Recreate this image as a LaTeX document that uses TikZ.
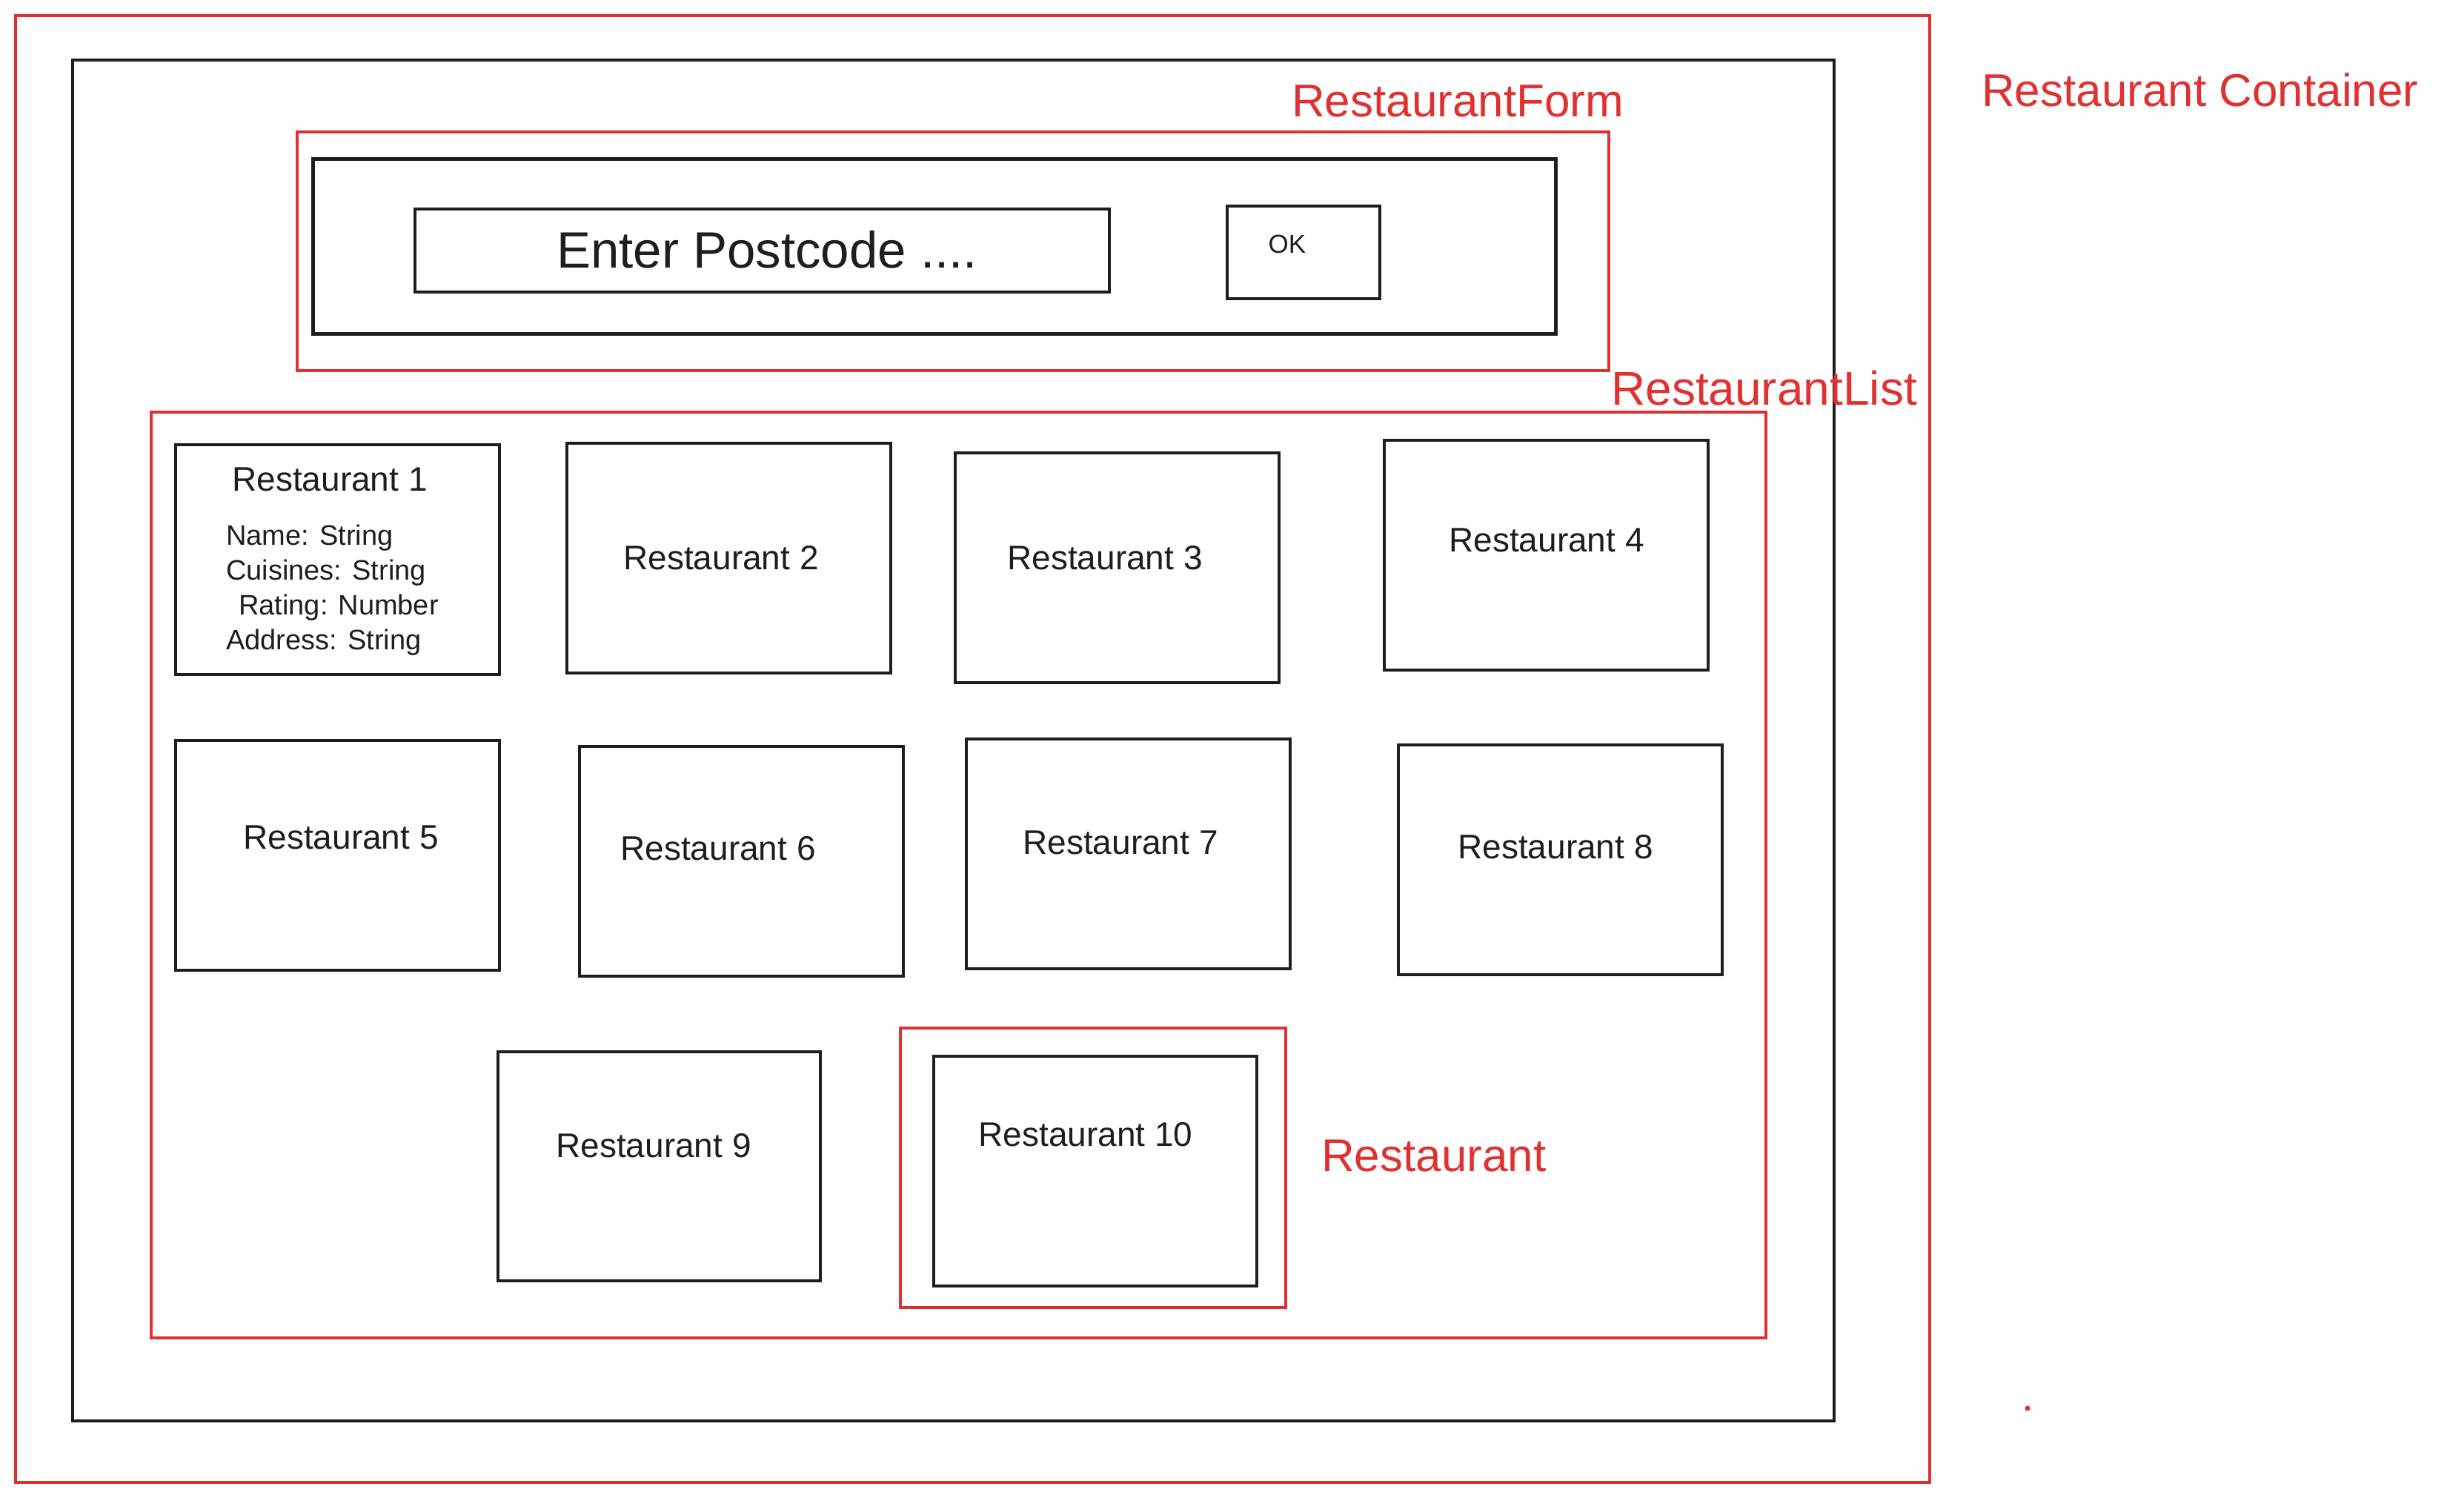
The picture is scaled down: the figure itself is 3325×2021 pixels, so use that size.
\documentclass[tikz,border=0pt]{standalone}
\usepackage{fontspec}
\setmainfont{Liberation Sans}
\definecolor{exred}{HTML}{E03131}
\definecolor{exblack}{HTML}{1E1E1E}
\begin{document}
\begin{tikzpicture}[x=1pt,y=-1pt,
  blackbox/.style={draw=exblack, line width=4pt, rectangle, inner sep=0pt},
  redbox/.style={draw=exred, line width=3.5pt, rectangle, inner sep=0pt},
  restbox/.style={blackbox, minimum width=437pt, minimum height=310pt},
  rname/.style={inner sep=0pt, text=exblack, font=\fontsize{46}{52}\selectfont},
  attr/.style={inner sep=0pt, text=exblack, align=left, font=\fontsize{38}{47}\selectfont},
  redlabel/.style={inner sep=0pt, anchor=west, text=exred, font=\fontsize{62}{70}\selectfont}]
\useasboundingbox (0,0) rectangle (3325,2021);
% containers
\node[redbox, minimum width=2583pt, minimum height=1979pt] (outer) at (1312.5,1010.5) {};
\node[blackbox, minimum width=2377pt, minimum height=1836pt] (container) at (1286.5,999) {};
% form
\node[redbox, minimum width=1770pt, minimum height=322pt] (formred) at (1286,339) {};
\node[blackbox, line width=5pt, minimum width=1677pt, minimum height=236pt] (form) at (1260.5,332) {};
\node[blackbox, line width=3.5pt, minimum width=937pt, minimum height=112pt] (input) at (1028.5,338) {};
\node[inner sep=0pt, text=exblack, font=\fontsize{69}{76}\selectfont] (inputtext) at (1035,337) {Enter Postcode ....};
\node[blackbox, line width=3.5pt, minimum width=206pt, minimum height=125pt] (ok) at (1759,340.5) {};
\node[inner sep=0pt, text=exblack, font=\fontsize{35}{40}\selectfont] (oktext) at (1737,329) {OK};
% list
\node[redbox, minimum width=2179pt, minimum height=1249pt] (list) at (1293.5,1180.5) {};
% restaurants
\node[restbox] (r1) at (455.5,755) {};
\node[restbox] (r2) at (983.5,753) {};
\node[restbox] (r3) at (1507.5,765.5) {};
\node[restbox] (r4) at (2086.5,748.5) {};
\node[restbox] (r5) at (455.5,1153.5) {};
\node[restbox] (r6) at (1000.5,1162) {};
\node[restbox] (r7) at (1522.5,1151.5) {};
\node[restbox] (r8) at (2105.5,1160) {};
\node[restbox, minimum width=435pt, minimum height=309pt] (r9) at (889.5,1573.5) {};
\node[redbox, minimum width=520pt, minimum height=377pt] (r10red) at (1475,1575.5) {};
\node[restbox, minimum width=436pt] (r10) at (1478,1580) {};
% restaurant texts
\node[rname] (t1) at (445,647) {Restaurant 1};
\node[attr, anchor=north west] (t1attr) at (305,708) {Name: String\\Cuisines: String\\\hspace*{17pt}Rating: Number\\Address: String};
\node[rname] (t2) at (973,753) {Restaurant 2};
\node[rname] (t3) at (1491,753) {Restaurant 3};
\node[rname] (t4) at (2087,729) {Restaurant 4};
\node[rname] (t5) at (460,1130) {Restaurant 5};
\node[rname] (t6) at (969,1145) {Restaurant 6};
\node[rname] (t7) at (1512,1137) {Restaurant 7};
\node[rname] (t8) at (2099,1143) {Restaurant 8};
\node[rname] (t9) at (882,1546) {Restaurant 9};
\node[rname] (t10) at (1465,1531) {Restaurant 10};
% red labels
\node[redlabel] (lform) at (1743,136) {RestaurantForm};
\node[redlabel, font=\fontsize{64}{70}\selectfont] (llist) at (2174,524) {RestaurantList};
\node[redlabel] (lrest) at (1783,1559) {Restaurant};
\node[redlabel] (lcont) at (2674,121) {Restaurant Container};
\fill[exred] (2736,1900) circle (3.5);
\end{tikzpicture}
\end{document}
